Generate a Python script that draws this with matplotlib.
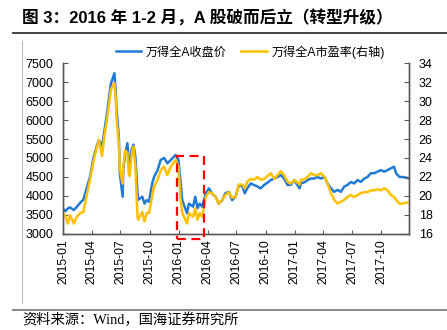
import matplotlib
matplotlib.use('Agg')
import matplotlib.pyplot as plt
import matplotlib.dates as mdates
from matplotlib.patches import Rectangle
import pandas as pd

plt.rcParams['font.family'] = ['Liberation Sans', 'Noto Sans CJK SC', 'DejaVu Sans']

BLUE = '#1F7BD6'
YELLOW = '#FFC000'
AXIS_GRAY = '#595959'

# 万得全A 收盘价与市盈率(TTM)
dates = [
    '2015-01-05', '2015-01-09', '2015-01-16', '2015-01-23', '2015-02-04', '2015-02-13',
    '2015-02-25', '2015-03-06', '2015-03-18', '2015-03-27', '2015-04-08', '2015-04-17',
    '2015-04-24', '2015-05-04', '2015-05-11', '2015-05-21', '2015-06-01', '2015-06-12',
    '2015-06-16', '2015-06-19', '2015-06-26', '2015-06-29', '2015-07-08', '2015-07-10',
    '2015-07-16', '2015-07-23', '2015-07-27', '2015-07-30', '2015-08-05', '2015-08-11',
    '2015-08-17', '2015-08-24', '2015-08-26', '2015-09-08', '2015-09-15', '2015-09-22',
    '2015-09-29', '2015-10-09', '2015-10-15', '2015-10-26', '2015-11-05', '2015-11-16',
    '2015-11-26', '2015-12-07', '2015-12-22', '2015-12-31',
    '2016-01-07', '2016-01-12', '2016-01-27', '2016-02-02', '2016-02-15', '2016-02-22',
    '2016-02-29', '2016-03-07', '2016-03-15', '2016-03-26', '2016-04-05', '2016-04-15',
    '2016-04-26', '2016-05-06', '2016-05-17', '2016-05-27', '2016-06-07', '2016-06-17',
    '2016-06-28', '2016-07-08', '2016-07-19', '2016-07-27', '2016-08-04', '2016-08-15',
    '2016-08-25', '2016-09-05', '2016-09-15', '2016-09-26', '2016-10-10', '2016-10-17',
    '2016-10-28', '2016-11-07', '2016-11-18', '2016-11-28', '2016-12-09', '2016-12-19',
    '2016-12-30',
    '2017-01-16', '2017-01-20', '2017-02-03', '2017-02-10', '2017-02-21', '2017-03-03',
    '2017-03-13', '2017-03-24', '2017-04-05', '2017-04-14', '2017-04-25', '2017-05-05',
    '2017-05-16', '2017-05-26', '2017-06-06', '2017-06-16', '2017-06-27', '2017-07-07',
    '2017-07-18', '2017-07-28', '2017-08-08', '2017-08-18', '2017-08-29', '2017-09-08',
    '2017-09-19', '2017-09-29', '2017-10-10', '2017-10-20', '2017-10-31', '2017-11-10',
    '2017-11-16', '2017-11-27', '2017-12-07', '2017-12-18', '2017-12-29',
]

close = [
    3632, 3600, 3670, 3700, 3630, 3710,
    3830, 3900, 4245, 4500, 5035, 5300,
    5470, 5300, 5690, 6260, 6965, 7230,
    6790, 6260, 5560, 4600, 3980, 4700,
    5120, 5390, 4900, 4700, 5200, 5350,
    5050, 4070, 3900, 3980, 3800, 3890,
    3850, 4330, 4500, 4680, 4950, 5000,
    4860, 4950, 5080, 4950,
    4330, 3890, 3545, 3800, 3720, 3980,
    3680, 3800, 3720, 4070, 4200, 4070,
    3980, 3800, 3890, 4070, 4110, 3890,
    3980, 4270, 4270, 4070, 4200, 4330,
    4290, 4250, 4200, 4290, 4370, 4420,
    4460, 4500, 4550, 4460, 4290, 4290,
    4420,
    4200, 4330, 4370, 4420, 4460, 4460,
    4500, 4460, 4500, 4330, 4200, 4110,
    4160, 4110, 4250, 4290, 4370, 4330,
    4420, 4370, 4460, 4500, 4600, 4600,
    4640, 4680, 4640, 4680, 4730, 4770,
    4600, 4500, 4500, 4480, 4460,
]

pe = [
    18.0, 17.8, 17.1, 18.0, 17.1, 17.8,
    18.2, 18.3, 20.3, 21.7, 23.8, 25.0,
    25.9, 24.2, 26.2, 28.4, 31.2, 31.9,
    30.4, 28.0, 25.6, 22.8, 21.3, 23.2,
    24.8, 24.5, 22.4, 22.1, 24.2, 25.2,
    23.2, 17.8, 17.5, 18.3, 17.3, 18.2,
    18.2, 19.9, 21.0, 21.7, 22.7, 23.1,
    22.2, 23.1, 23.8, 23.1,
    19.6, 18.2, 17.1, 18.2, 17.8, 18.7,
    17.5, 18.2, 17.8, 19.9, 20.4, 20.3,
    19.9, 19.2, 19.6, 20.1, 20.4, 19.8,
    19.9, 21.2, 21.2, 20.8, 21.5, 21.8,
    21.7, 22.0, 21.7, 21.8, 22.2, 22.4,
    21.8, 22.2, 22.6, 22.2, 21.5, 21.3,
    21.7,
    21.2, 21.7, 21.8, 22.0, 22.4, 22.2,
    22.2, 22.4, 22.0, 21.3, 20.3, 19.6,
    19.2, 19.4, 19.6, 19.9, 20.1, 19.9,
    20.1, 20.3, 20.4, 20.4, 20.6, 20.6,
    20.7, 20.6, 20.8, 20.6, 20.1, 19.9,
    19.6, 19.2, 19.2, 19.3, 19.3,
]

tick_labels = ['2015-01', '2015-04', '2015-07', '2015-10', '2016-01', '2016-04',
               '2016-07', '2016-10', '2017-01', '2017-04', '2017-07', '2017-10']

# 2016 年初熔断区间
box_start, box_end = '2015-12-26', '2016-03-22'
box_low, box_high = 2860, 5060

x = pd.to_datetime(dates)
ticks = pd.to_datetime([t + '-01' for t in tick_labels])

fig = plt.figure(figsize=(4.47, 3.30), dpi=100)
ax = fig.add_axes([0.141, 0.291, 0.774, 0.518])
ax2 = ax.twinx()

l1, = ax.plot(x, close, color=BLUE, lw=1.8, label='万得全A收盘价')
l2, = ax2.plot(x, pe, color=YELLOW, lw=1.8, label='万得全A市盈率(右轴)')

ax.set_xlim(pd.Timestamp('2015-01-01'), pd.Timestamp('2017-12-27'))
ax.set_ylim(3000, 7500)
ax2.set_ylim(16, 34)
ax.set_yticks(range(3000, 7501, 500))
ax2.set_yticks(range(16, 35, 2))
ax.set_xticks(ticks)
ax.set_xticklabels(tick_labels, rotation=90)

for a in (ax, ax2):
    a.spines['top'].set_visible(False)
    for s in ('left', 'right', 'bottom'):
        a.spines[s].set_color(AXIS_GRAY)
        a.spines[s].set_linewidth(1.0)
    a.tick_params(direction='in', length=3.5, width=0.8, color=AXIS_GRAY,
                  labelsize=9, labelcolor='black')
ax.tick_params(axis='x', length=3, labelsize=8.8, pad=4)
ax.tick_params(axis='y', pad=7)
ax2.tick_params(axis='y', pad=7)

# 红色虚线框画在左轴坐标下，置于折线之上
x0 = mdates.date2num(pd.Timestamp(box_start))
x1 = mdates.date2num(pd.Timestamp(box_end))
rect = Rectangle((x0, box_low), x1 - x0, box_high - box_low, fill=False,
                 edgecolor='#FF0000', lw=1.6, ls=(0, (4, 2.5)), clip_on=False,
                 transform=ax.transData, zorder=5)
ax2.add_patch(rect)

fig.legend([l1, l2], [l1.get_label(), l2.get_label()], loc='center',
           bbox_to_anchor=(0.560, 0.843), ncol=2, frameon=False, fontsize=8.7,
           handlelength=2.1, columnspacing=1.2, handletextpad=0.4)

# 标题与来源
fig.text(0.049, 0.948, '图 3：2016 年 1-2 月，A 股破而后立（转型升级）',
         fontsize=12, fontweight='bold', va='center', ha='left',
         family=['Liberation Sans', 'Noto Sans CJK SC'])
fig.add_artist(plt.Line2D([0.029, 1.0], [0.900, 0.900], color='#222222', lw=1.2))
fig.add_artist(plt.Line2D([0.049, 0.049], [0.082, 0.875], color='#BBBBBB', lw=0.8))
fig.add_artist(plt.Line2D([0.029, 1.0], [0.061, 0.061], color='#8C8C8C', lw=1.5))
fig.text(0.049, 0.030, '资料来源：Wind，国海证券研究所', fontsize=10.3, va='center', ha='left',
         family=['Liberation Serif', 'Noto Sans CJK SC'])

fig.savefig('out.png', dpi=100)
